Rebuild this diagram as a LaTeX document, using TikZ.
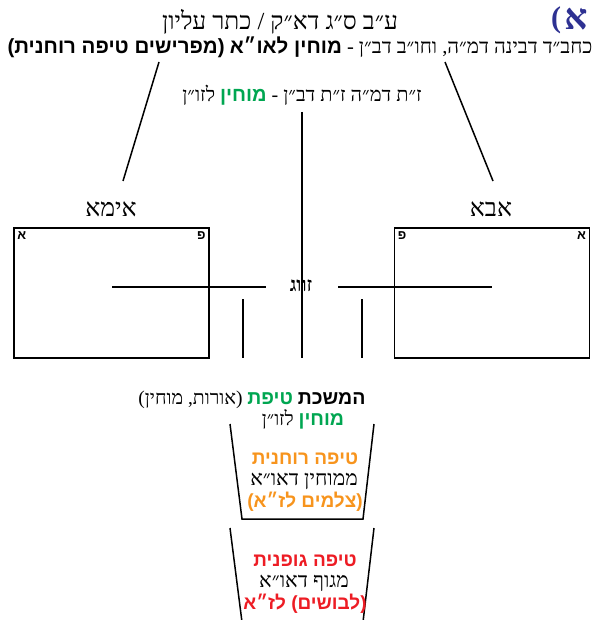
\documentclass[tikz,border=0pt]{standalone}
\usepackage{fontspec}
\TeXXeTstate=1
\newfontfamily\hebserif[Script=Hebrew]{Liberation Serif}
\newfontfamily\hebsans[Script=Hebrew]{Liberation Sans}
\newfontfamily\latserif{Liberation Serif}
\definecolor{grn}{RGB}{0,166,81}
\definecolor{org}{RGB}{247,148,29}
\definecolor{rd}{RGB}{237,28,36}
\definecolor{navy}{RGB}{46,49,146}
\newcommand\hbld[1]{{\hebsans\bfseries #1}}
% a right-to-left segment, set as one box (segments are then placed in visual order)
\newcommand\rseg[1]{\hbox{\beginR #1\endR}}
\newcommand\gseg[2]{\hbox{\color{#1}\hebsans\bfseries\beginR #2\endR}}
\tikzset{
  ln/.style={line width=1.5pt, black},
  txt/.style={inner sep=0pt, font=\hebserif},
  boxx/.style={draw, line width=1.5pt, minimum width=195pt, minimum height=130pt, inner sep=0pt},
  corner/.style={inner sep=0pt, font=\hebsans\bfseries\fontsize{13}{14}\selectfont},
  cupreg/.style={txt, font=\hebserif\fontsize{21}{23}\selectfont},
  cupbold/.style={txt, font=\hebsans\bfseries\fontsize{19}{21}\selectfont},
}
\begin{document}
\begin{tikzpicture}[x=1pt,y=-1pt]
\useasboundingbox (0,0) rectangle (598,620);
% header
\node[txt, text=navy, font=\latserif\bfseries\fontsize{30}{32}\selectfont] (par) at (556,20) {(};
\node[txt, text=navy, font=\hebserif\bfseries\fontsize{36}{38}\selectfont] (num) at (576,19) {א};
\node[txt, font=\hebserif\fontsize{24.5}{26}\selectfont] (l1) at (280,22) {\beginR ע״ב ס״ג דא״ק / כתר עליון\endR};
\node[txt, font=\hebserif\fontsize{20.5}{22}\selectfont] (l2) at (300,47) {\beginR כחב״ד דבינה דמ״ה, וחו״ב דב״ן - \hbld{מוחין לאו״א} \hbld{(מפרישים טיפה רוחנית)}\endR};
\node[txt, font=\hebserif\fontsize{20}{22}\selectfont] (l3) at (302,95) {\rseg{לזו״ן}\ \gseg{grn}{מוחין}\ \rseg{ז״ת דמ״ה ז״ת דב״ן -}};
% diagonals
\coordinate (dl1) at (159,62); \coordinate (dl2) at (123,181);
\coordinate (dr1) at (445,62); \coordinate (dr2) at (493,181);
\draw[ln] (dl1) -- (dl2);
\draw[ln] (dr1) -- (dr2);
% labels
\node[txt, font=\hebserif\fontsize{25}{27}\selectfont] (ima) at (111,209) {\beginR אימא\endR};
\node[txt, font=\hebserif\fontsize{25}{27}\selectfont] (aba) at (491,209) {\beginR אבא\endR};
% boxes
\node[boxx] (imabox) at (111.5,293) {};
\node[boxx] (ababox) at (492,293) {};
\node[corner, anchor=north west] (ima1) at ([xshift=4pt,yshift=-4pt]imabox.north west) {א};
\node[corner, anchor=north east] (ima2) at ([xshift=-4pt,yshift=-4pt]imabox.north east) {פ};
\node[corner, anchor=north west] (aba1) at ([xshift=4pt,yshift=-4pt]ababox.north west) {פ};
\node[corner, anchor=north east] (aba2) at ([xshift=-4pt,yshift=-4pt]ababox.north east) {א};
% zivug
\node[txt, font=\hebserif\bfseries\fontsize{20}{22}\selectfont] (zivug) at (301,286) {\beginR זווג\endR};
\coordinate (hl1) at (112,287); \coordinate (hl2) at (266,287);
\coordinate (hr1) at (338,287); \coordinate (hr2) at (492,287);
\draw[ln] (hl1) -- (hl2);
\draw[ln] (hr1) -- (hr2);
\coordinate (vc1) at (302,112); \coordinate (vc2) at (302,358);
\draw[ln] (vc1) -- (vc2);
\coordinate (va1) at (243,299); \coordinate (va2) at (243,358);
\coordinate (vb1) at (362,299); \coordinate (vb2) at (362,358);
\draw[ln] (va1) -- (va2);
\draw[ln] (vb1) -- (vb2);
% drop text
\node[txt, font=\hebserif\fontsize{19.5}{21}\selectfont] (hamshacha) at (252,400) {\rseg{(אורות, מוחין)}\ \gseg{grn}{טיפת}\ \gseg{black}{המשכת}};
\node[txt, font=\hebserif\fontsize{19.5}{21}\selectfont] (mochin) at (303,419) {\rseg{לזו״ן}\ \gseg{grn}{מוחין}};
% cup 1
\coordinate (c1a) at (230,424); \coordinate (c1b) at (242,519);
\coordinate (c1c) at (363,519); \coordinate (c1d) at (374,424);
\draw[ln] (c1a) -- (c1b) -- (c1c) -- (c1d);
\node[cupbold, text=org] (t1a) at (305,459) {\beginR טיפה רוחנית\endR};
\node[cupreg] (t1b) at (304,481) {\beginR ממוחין דאו״א\endR};
\node[cupbold, text=org] (t1c) at (305,502) {\beginR (צלמים לז״א)\endR};
% cup 2
\coordinate (c2a) at (230,528); \coordinate (c2b) at (242,622);
\coordinate (c2c) at (374,528); \coordinate (c2d) at (363,622);
\draw[ln] (c2a) -- (c2b);
\draw[ln] (c2c) -- (c2d);
\node[cupbold, text=rd] (t2a) at (305,561) {\beginR טיפה גופנית\endR};
\node[cupreg] (t2b) at (304,583) {\beginR מגוף דאו״א\endR};
\node[cupbold, text=rd] (t2c) at (305,604) {\beginR (לבושים) לז״א\endR};
\end{tikzpicture}
\end{document}
